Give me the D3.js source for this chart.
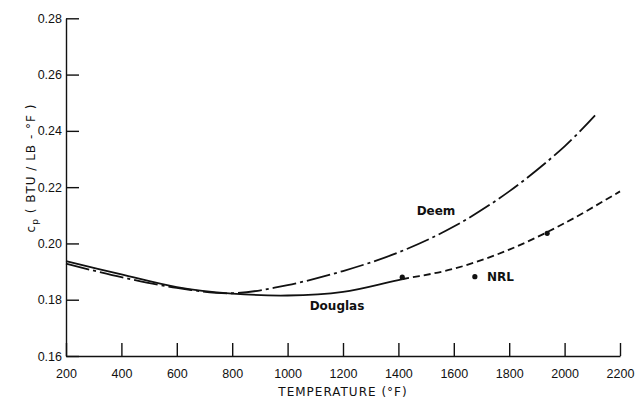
<!DOCTYPE html>
<html>
<head>
<meta charset="utf-8">
<script src="https://cdn.jsdelivr.net/npm/d3@7"></script>
<style>
  body { margin: 0; background: #fff; }
  svg { font-family: "DejaVu Sans", sans-serif; }
  .axis text { font-size: 12.5px; fill: #111; }
  .axis path, .axis line { stroke: #111; stroke-width: 1.4; }
</style>
</head>
<body>
<svg class="chart"></svg>
<script>
// tick values
let xTicks = [200, 400, 600, 800, 1000, 1200, 1400, 1600, 1800, 2000, 2200];
let yTicks = [0.16, 0.18, 0.20, 0.22, 0.24, 0.26, 0.28];

// Deem curve (dash-dot)
let deemT = [200, 400, 600, 800, 1000, 1200, 1400, 1600, 1800, 2000, 2110];
let deemC = [0.1928, 0.1880, 0.1842, 0.1823, 0.1852, 0.1902, 0.1968, 0.2060, 0.2185, 0.2345, 0.2455];

// Douglas curve: solid up to douglasSolidEnd, dashed beyond
let douglasT = [200, 400, 600, 800, 1000, 1200, 1400, 1600, 1800, 2000, 2200];
let douglasC = [0.1937, 0.1890, 0.1845, 0.1822, 0.1815, 0.1828, 0.1870, 0.1910, 0.1978, 0.2072, 0.2185];
let douglasSolidEnd = 1414;

// NRL points
let nrlT = [1414, 1676, 1937];
let nrlC = [0.1880, 0.1882, 0.2036];

let W = 639, H = 400;
let mLeft = 66, mRight = 620, mTop = 18.3, mBottom = 356;

var svg = d3.select(".chart")
            .attr("width", W)
            .attr("height", H);

var x = d3.scaleLinear().domain([200, 2200]).range([mLeft, mRight]);
var y = d3.scaleLinear().domain([0.16, 0.28]).range([mBottom, mTop]);

svg.append("g")
   .attr("class", "axis")
   .attr("transform", "translate(0," + mBottom + ")")
   .call(d3.axisBottom(x).tickValues(xTicks).tickSizeInner(-13).tickSizeOuter(0).tickPadding(13).tickFormat(d3.format("d")));

svg.append("g")
   .attr("class", "axis")
   .attr("transform", "translate(" + mLeft + ",0)")
   .call(d3.axisLeft(y).tickValues(yTicks).tickSizeInner(-13).tickSizeOuter(0).tickPadding(4).tickFormat(d3.format(".2f")));

let zip = (a, b) => a.map((d, i) => [d, b[i]]);

var line = d3.line()
             .x(d => x(d[0]))
             .y(d => y(d[1]))
             .curve(d3.curveCatmullRom.alpha(0.5));

// clip regions for the solid / dashed parts of Douglas
var defs = svg.append("defs");
defs.append("clipPath").attr("id", "solidPart")
    .append("rect").attr("x", 0).attr("y", 0)
    .attr("width", x(douglasSolidEnd)).attr("height", H);
defs.append("clipPath").attr("id", "dashPart")
    .append("rect").attr("x", x(douglasSolidEnd)).attr("y", 0)
    .attr("width", W - x(douglasSolidEnd)).attr("height", H);

svg.append("path")
   .attr("d", line(zip(deemT, deemC)))
   .attr("fill", "none")
   .attr("stroke", "#111")
   .attr("stroke-width", 1.8)
   .attr("stroke-dasharray", "24,4,3,4");

var dPath = line(zip(douglasT, douglasC));

svg.append("path")
   .attr("d", dPath)
   .attr("clip-path", "url(#solidPart)")
   .attr("fill", "none")
   .attr("stroke", "#111")
   .attr("stroke-width", 1.8);

svg.append("path")
   .attr("d", dPath)
   .attr("clip-path", "url(#dashPart)")
   .attr("fill", "none")
   .attr("stroke", "#111")
   .attr("stroke-width", 1.8)
   .attr("stroke-dasharray", "7,4");

svg.selectAll(".nrl")
   .data(zip(nrlT, nrlC))
   .enter().append("circle")
   .attr("class", "nrl")
   .attr("cx", d => x(d[0]))
   .attr("cy", d => y(d[1]))
   .attr("r", 2.6)
   .attr("fill", "#111");

// curve labels
svg.append("text").attr("x", 436).attr("y", 215).attr("text-anchor", "middle")
   .attr("font-size", "12px").attr("font-weight", "bold").attr("fill", "#111").text("Deem");
svg.append("text").attr("x", 487).attr("y", 281)
   .attr("font-size", "12px").attr("font-weight", "bold").attr("fill", "#111").text("NRL");
svg.append("text").attr("x", 337).attr("y", 310).attr("text-anchor", "middle")
   .attr("font-size", "12px").attr("font-weight", "bold").attr("fill", "#111").text("Douglas");

// axis titles
svg.append("text")
   .attr("x", 343).attr("y", 396)
   .attr("text-anchor", "middle")
   .attr("font-size", "12px")
   .attr("letter-spacing", "1px")
   .attr("fill", "#111")
   .text("TEMPERATURE (°F)");

var yl = svg.append("text")
   .attr("transform", "translate(35,168) rotate(-90)")
   .attr("text-anchor", "middle")
   .attr("font-size", "12px")
   .attr("letter-spacing", "1px")
   .attr("fill", "#111");
yl.append("tspan").text("c");
yl.append("tspan").attr("font-size", "9px").attr("dy", 3).text("p");
yl.append("tspan").attr("dy", -3).text(" ( BTU / LB - °F )");
</script>
</body>
</html>
